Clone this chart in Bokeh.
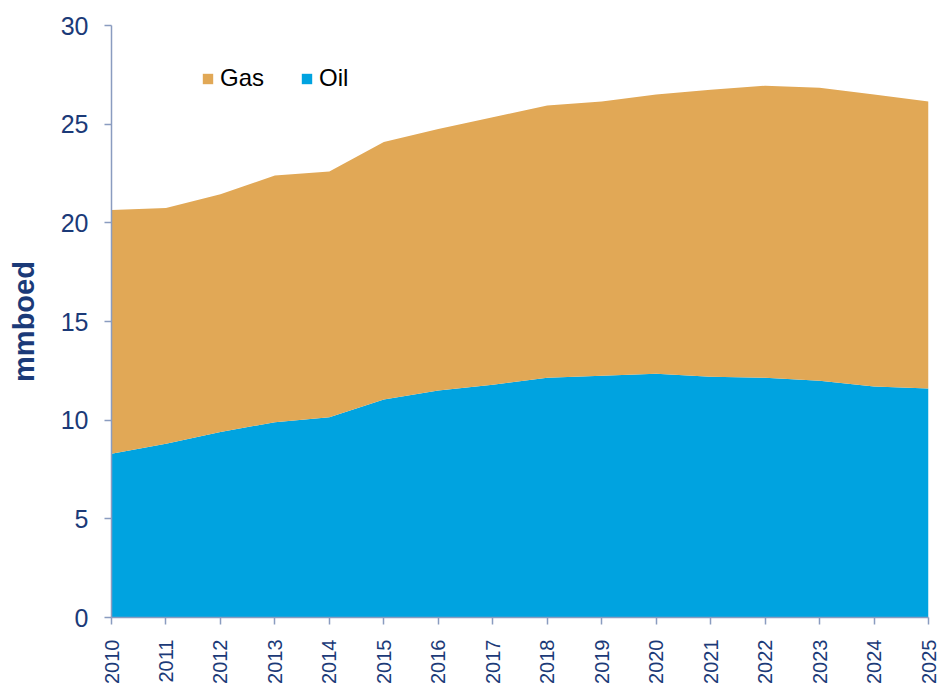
from bokeh.plotting import figure
from bokeh.models import Legend, LegendItem, ColumnDataSource, FixedTicker, Range1d
from bokeh.embed import file_html
from bokeh.resources import INLINE
import math

years = list(range(2010, 2026))
oil = [8.3, 8.8, 9.4, 9.9, 10.15, 11.05, 11.5, 11.8, 12.15, 12.25, 12.35, 12.2, 12.15, 12.0, 11.7, 11.6]
total = [20.65, 20.75, 21.45, 22.4, 22.6, 24.1, 24.75, 25.35, 25.95, 26.15, 26.5, 26.75, 26.95, 26.85, 26.5, 26.15]
gas = [round(t - o, 3) for t, o in zip(total, oil)]

src = ColumnDataSource(dict(year=years, oil=oil, gas=gas))

NAVY = "#1B3A78"
p = figure(width=939, height=694, output_backend="svg", toolbar_location=None,
           x_range=Range1d(2010, 2025), y_range=Range1d(0, 30))
p.min_border_left = 111
p.min_border_top = 25
p.min_border_right = 11
p.min_border_bottom = 77
p.outline_line_color = None
p.background_fill_color = "white"
p.border_fill_color = "white"

r = p.varea_stack(stackers=["oil", "gas"], x="year", color=["#00A3E0", "#E1A856"], source=src)

p.xgrid.grid_line_color = None
p.ygrid.grid_line_color = None

for ax in (p.xaxis[0], p.yaxis[0]):
    ax.axis_line_color = "#8A9CC0"
    ax.axis_line_width = 1.5
    ax.major_tick_line_color = "#8A9CC0"
    ax.major_tick_line_width = 1.5
    ax.major_tick_out = 7
    ax.major_tick_in = 0
    ax.minor_tick_line_color = None
    ax.major_label_text_color = NAVY
    ax.major_label_text_font = "Liberation Sans"

p.xaxis.ticker = FixedTicker(ticks=years)
p.xaxis.major_label_orientation = math.pi / 2
p.xaxis.major_label_standoff = 15
p.xaxis.major_label_text_font_size = "20px"
p.yaxis.ticker = FixedTicker(ticks=[0, 5, 10, 15, 20, 25, 30])
p.yaxis.major_label_standoff = 16
p.yaxis.major_label_text_font_size = "25px"
p.yaxis.axis_label = "mmboed"
p.yaxis.axis_label_text_font = "Liberation Sans"
p.yaxis.axis_label_text_font_style = "bold"
p.yaxis.axis_label_text_font_size = "29px"
p.yaxis.axis_label_text_color = NAVY
p.yaxis.axis_label_standoff = 18

legend = Legend(items=[LegendItem(label="Gas", renderers=[r[1]]),
                       LegendItem(label="Oil", renderers=[r[0]])],
                orientation="horizontal", location=(90, 525))
legend.border_line_color = None
legend.background_fill_alpha = 0
legend.label_text_font = "Liberation Sans"
legend.label_text_font_size = "24px"
legend.label_text_color = "black"
legend.glyph_width = 13
legend.glyph_height = 13
legend.spacing = 36
legend.label_standoff = 6
p.add_layout(legend)

open("out.html", "w").write(file_html(p, INLINE))
